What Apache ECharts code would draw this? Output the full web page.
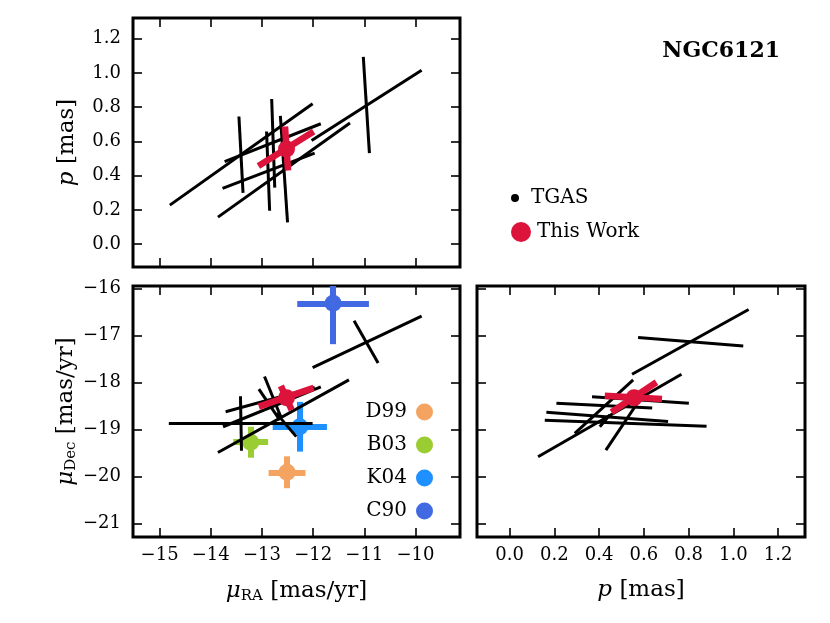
<!DOCTYPE html>
<html>
<head>
    <meta charset="utf-8">
    <title>NGC6121 proper motion and parallax</title>
    <script src="https://cdn.jsdelivr.net/npm/echarts@6.0.0/dist/echarts.min.js"></script>
    <style>
        body { margin: 0; background: #fff; }
        #chart { width: 830px; height: 623px; }
    </style>
</head>
<body>
    <div id="chart"></div>

    <script type="text/javascript">
        // tick values
        var raTicks = [-15, -14, -13, -12, -11, -10];
        var decTicks = [-21, -20, -19, -18, -17, -16];
        var pTicks = [0, 0.2, 0.4, 0.6, 0.8, 1.0, 1.2];

        // TGAS error axes, one segment per row: x1, y1, x2, y2
        var tgasRaP = [
            [-14.80, 0.228, -12.01, 0.820],
            [-13.45, 0.745, -13.37, 0.300],
            [-13.73, 0.482, -11.85, 0.703],
            [-13.77, 0.326, -11.97, 0.531],
            [-13.86, 0.158, -11.28, 0.707],
            [-12.81, 0.847, -12.75, 0.330],
            [-12.91, 0.658, -12.85, 0.195],
            [-12.64, 0.749, -12.50, 0.127],
            [-12.03, 0.605, -9.88, 1.015],
            [-11.02, 1.093, -10.90, 0.531]
        ];
        var tgasRaDec = [
            [-12.01, -17.68, -9.88, -16.58],
            [-11.20, -16.68, -10.73, -17.58],
            [-14.82, -18.87, -12.01, -18.87],
            [-13.42, -18.29, -13.40, -19.45],
            [-13.86, -19.49, -11.30, -17.94],
            [-13.71, -18.62, -11.97, -18.10],
            [-13.76, -18.94, -11.85, -18.09],
            [-12.95, -17.87, -12.62, -18.76],
            [-13.06, -18.14, -12.65, -18.80],
            [-12.72, -18.65, -12.33, -19.15]
        ];
        var tgasPDec = [
            [0.547, -17.82, 1.068, -16.44],
            [0.574, -17.04, 1.044, -17.22],
            [0.291, -19.08, 0.552, -17.94],
            [0.127, -19.58, 0.768, -17.82],
            [0.430, -19.44, 0.604, -18.20],
            [0.368, -18.30, 0.801, -18.44],
            [0.209, -18.44, 0.637, -18.54],
            [0.164, -18.63, 0.708, -18.83],
            [0.157, -18.80, 0.880, -18.93],
            [0.403, -18.94, 0.447, -18.69]
        ];

        // this work
        var workRa = -12.52;
        var workDec = -18.32;
        var workP = 0.556;
        var workRaP = [[-13.07, 0.457, -11.99, 0.658], [-12.55, 0.687, -12.49, 0.430]];
        var workRaDec = [[-13.06, -18.51, -11.99, -18.11], [-12.63, -18.07, -12.42, -18.58]];
        var workPDec = [[0.425, -18.28, 0.681, -18.35], [0.455, -18.63, 0.656, -17.99]];

        // literature values
        var litNames = ['D99', 'B03', 'K04', 'C90'];
        var litRa = [-12.51, -13.22, -12.26, -11.61];
        var litRaErr = [0.36, 0.34, 0.53, 0.70];
        var litDec = [-19.91, -19.27, -18.94, -16.31];
        var litDecErr = [0.34, 0.33, 0.53, 0.87];
        var litColors = ['#f4a460', '#9acd32', '#1e90ff', '#4169e1'];

        var FONT = 'DejaVu Serif';
        var RED = '#dc143c';

        function minus(v) {
            return v < 0 ? '\u2212' + Math.abs(v) : String(v);
        }
        function oneDec(v) {
            return v.toFixed(1);
        }
        function segs(rows) {
            return rows.map(function (r) { return { coords: [[r[0], r[1]], [r[2], r[3]]] }; });
        }

        var nameStyle = {
            fontFamily: FONT, fontSize: 23, color: '#000',
            rich: {
                i: { fontFamily: FONT, fontSize: 23, fontStyle: 'italic', color: '#000' },
                s: { fontFamily: FONT, fontSize: 15, color: '#000', padding: [10, 0, 0, 0] },
                n: { fontFamily: FONT, fontSize: 23, color: '#000' }
            }
        };

        function axis(grid, pos, min, max, ticks, label, fmt) {
            var a = {
                type: 'value', gridIndex: grid, position: pos, min: min, max: max,
                axisLine: { show: false, onZero: false },
                splitLine: { show: false },
                axisTick: { inside: true, length: 9, lineStyle: { color: '#000', width: 1.6 }, customValues: ticks },
                axisLabel: { show: false }
            };
            if (label) {
                a.axisLabel = {
                    show: true, customValues: ticks, formatter: fmt,
                    fontFamily: FONT, fontSize: 18, color: '#000',
                    margin: (pos === 'left') ? 12 : 9
                };
            }
            return a;
        }

        var raMin = -15.52, raMax = -9.13;
        var decMin = -21.29, decMax = -15.94;
        var pMinY = -0.133, pMinX = -0.146, pMax = 1.32;

        var xAxes = [
            axis(0, 'bottom', raMin, raMax, raTicks, false),
            axis(0, 'top', raMin, raMax, raTicks, false),
            axis(1, 'bottom', raMin, raMax, raTicks, true, minus),
            axis(1, 'top', raMin, raMax, raTicks, false),
            axis(2, 'bottom', pMinX, pMax, pTicks, true, oneDec),
            axis(2, 'top', pMinX, pMax, pTicks, false)
        ];
        var yAxes = [
            axis(0, 'left', pMinY, pMax, pTicks, true, oneDec),
            axis(0, 'right', pMinY, pMax, pTicks, false),
            axis(1, 'left', decMin, decMax, decTicks, true, minus),
            axis(1, 'right', decMin, decMax, decTicks, false),
            axis(2, 'left', decMin, decMax, decTicks, false),
            axis(2, 'right', decMin, decMax, decTicks, false)
        ];

        xAxes[2].name = '{i|\u03bc}{s|RA}{n| [mas/yr]}';
        xAxes[4].name = '{i|p}{n| [mas]}';
        yAxes[0].name = '{i|p}{n| [mas]}';
        yAxes[2].name = '{i|\u03bc}{s|Dec}{n| [mas/yr]}';
        [xAxes[2], xAxes[4]].forEach(function (a) {
            a.nameLocation = 'middle'; a.nameGap = 42; a.nameTextStyle = nameStyle;
        });
        [yAxes[0], yAxes[2]].forEach(function (a) {
            a.nameLocation = 'middle'; a.nameGap = 54; a.nameTextStyle = nameStyle;
        });

        var series = [];
        function tgas(rows, xi, yi) {
            series.push({
                name: 'TGAS', type: 'lines', coordinateSystem: 'cartesian2d',
                xAxisIndex: xi, yAxisIndex: yi, z: 3, silent: true,
                lineStyle: { color: '#000', width: 3, opacity: 1, curveness: 0 },
                data: segs(rows)
            });
        }
        function work(rows, pt, xi, yi) {
            series.push({
                name: 'This Work', type: 'lines', coordinateSystem: 'cartesian2d',
                xAxisIndex: xi, yAxisIndex: yi, z: 4, silent: true,
                lineStyle: { color: RED, width: 6.5, opacity: 1, curveness: 0 },
                data: segs(rows)
            });
            series.push({
                name: 'This Work', type: 'scatter', xAxisIndex: xi, yAxisIndex: yi, z: 4,
                symbolSize: 17, itemStyle: { color: RED, opacity: 1 },
                data: [pt]
            });
        }
        tgas(tgasRaP, 0, 0);
        tgas(tgasRaDec, 2, 2);
        tgas(tgasPDec, 4, 4);
        work(workRaP, [workRa, workP], 0, 0);
        work(workRaDec, [workRa, workDec], 2, 2);
        work(workPDec, [workP, workDec], 4, 4);

        litNames.forEach(function (n, i) {
            series.push({
                name: n, type: 'scatter', xAxisIndex: 2, yAxisIndex: 2, z: 2,
                symbolSize: 17, itemStyle: { color: litColors[i], opacity: 1 },
                data: [[litRa[i], litDec[i]]]
            });
            series.push({
                name: n, type: 'lines', coordinateSystem: 'cartesian2d',
                xAxisIndex: 2, yAxisIndex: 2, z: 2, silent: true,
                lineStyle: { color: litColors[i], width: 6, opacity: 1, curveness: 0 },
                data: segs([
                    [litRa[i] - litRaErr[i], litDec[i], litRa[i] + litRaErr[i], litDec[i]],
                    [litRa[i], litDec[i] - litDecErr[i], litRa[i], Math.min(litDec[i] + litDecErr[i], decMax)]
                ])
            });
        });

        var legendText = { fontFamily: FONT, fontSize: 20, color: '#000', lineHeight: 20 };

        var option = {
            animation: false,
            backgroundColor: '#fff',
            title: {
                text: 'NGC6121', right: 45, top: 35,
                textStyle: { fontFamily: FONT, fontWeight: 'bold', fontSize: 22, color: '#000' }
            },
            legend: [
                {
                    data: [{ name: 'TGAS', icon: 'circle', itemStyle: { color: '#000' } }],
                    left: 506, top: 183, itemWidth: 22, itemHeight: 6,
                    selectedMode: false, textStyle: legendText
                },
                {
                    data: [{ name: 'This Work', icon: 'circle', itemStyle: { color: RED } }],
                    left: 506, top: 217, itemWidth: 22, itemHeight: 18,
                    selectedMode: false, textStyle: legendText
                },
                {
                    data: litNames.map(function (n, i) {
                        return { name: n, icon: 'circle', itemStyle: { color: litColors[i] } };
                    }),
                    orient: 'vertical', align: 'right', right: 392, top: 397,
                    itemWidth: 25, itemHeight: 17, itemGap: 13,
                    selectedMode: false, textStyle: legendText
                }
            ],
            grid: [
                { left: 133, top: 18, width: 327, height: 249, show: true, borderColor: '#000', borderWidth: 3, backgroundColor: 'transparent' },
                { left: 133, top: 286, width: 327, height: 251, show: true, borderColor: '#000', borderWidth: 3, backgroundColor: 'transparent' },
                { left: 477, top: 286, width: 328, height: 251, show: true, borderColor: '#000', borderWidth: 3, backgroundColor: 'transparent' }
            ],
            xAxis: xAxes,
            yAxis: yAxes,
            series: series
        };

        var myChart = echarts.init(document.getElementById('chart'));
        myChart.setOption(option);
    </script>
</body>
</html>
